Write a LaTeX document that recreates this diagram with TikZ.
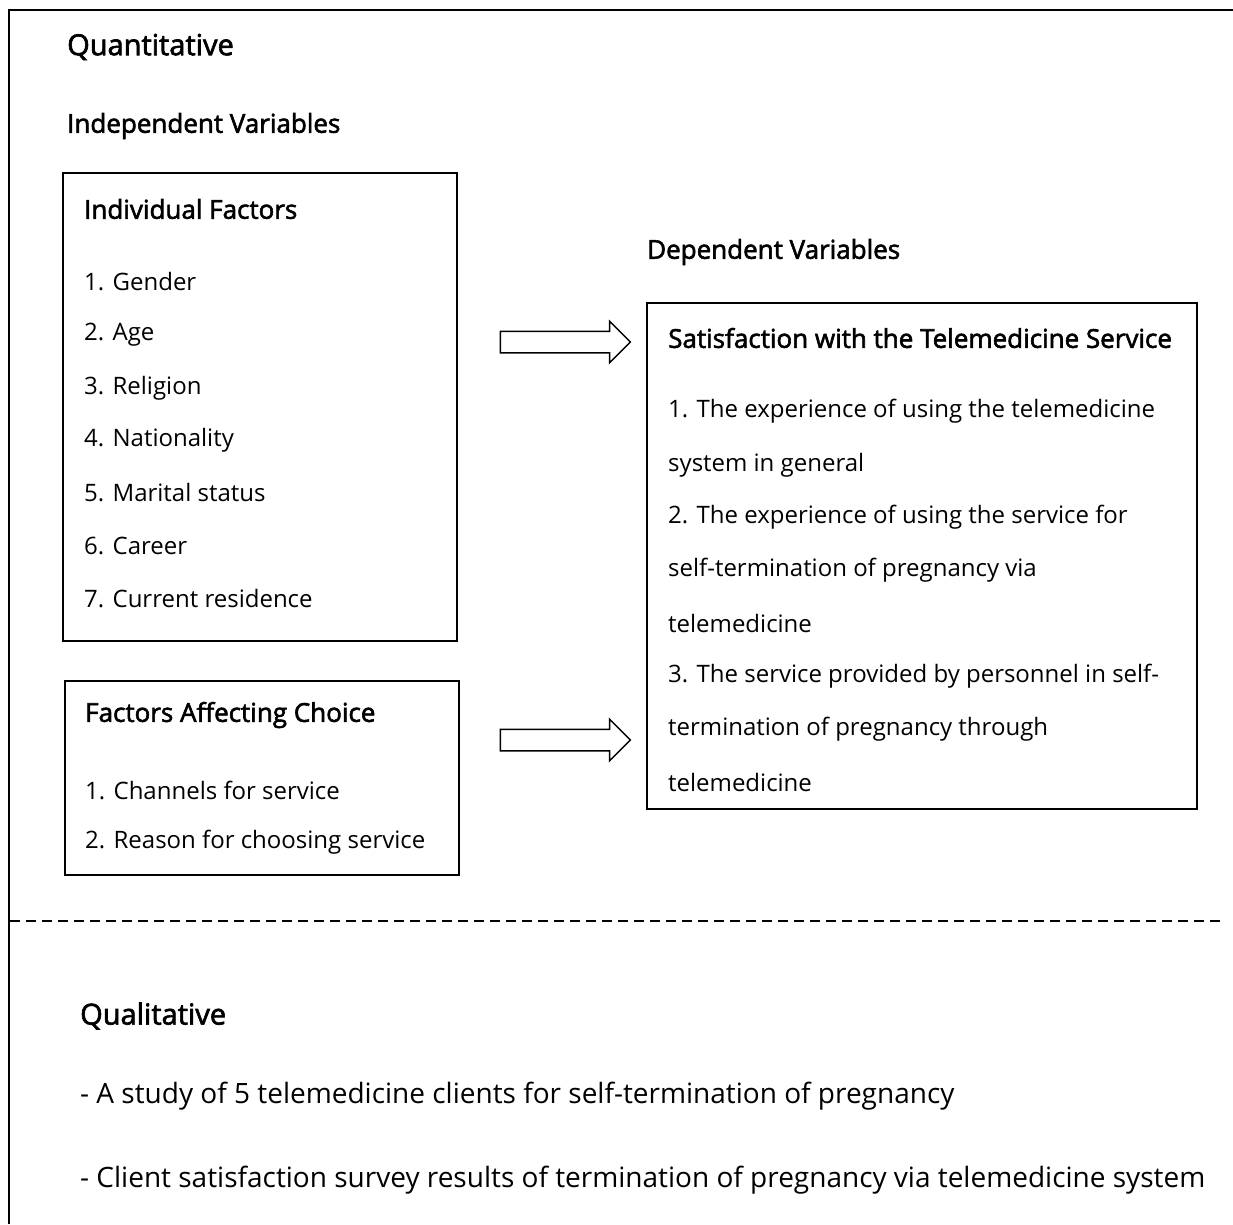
\documentclass[tikz,border=0pt]{standalone}
\usepackage{fontspec}
\setmainfont{Open Sans}
\newfontfamily\headfont[FakeBold=2.2]{Open Sans}
\usetikzlibrary{shapes.arrows, positioning}

\begin{document}
\begin{tikzpicture}[
    x=1pt, y=-1pt,
    every node/.style={font=\fontsize{24}{28}\selectfont},
    head/.style={anchor=west, inner sep=0pt, font=\fontsize{26}{30}\headfont},
    part/.style={anchor=west, inner sep=0pt, font=\fontsize{29}{33}\headfont},
    item/.style={anchor=west, inner sep=0pt},
    note/.style={anchor=west, inner sep=0pt, font=\fontsize{28}{32}\selectfont},
    box/.style={draw, line width=1.6pt, inner sep=0pt},
    fat/.style={draw, line width=1.5pt, single arrow, single arrow head extend=10pt,
                inner xsep=0pt, inner ysep=10pt, minimum height=130pt}
]
    \useasboundingbox (0,0) rectangle (1233,1224);

    % Frame
    \draw[line width=2.5pt] (9,1224) -- (9,10) -- (1233,10);
    \draw[line width=1.8pt, dash pattern=on 10pt off 6pt] (10,921) -- (1222,921);

    % Quantitative part
    \node[part] (quan) at (67,47) {Quantitative};
    \node[head] (indep) at (67,126) {Independent Variables};

    \node[box, minimum width=394pt, minimum height=468pt] (indiv) at (260,407) {};
    \node[head] (indivt) at (84,209) {Individual Factors};
    \node[item] (i1) at (84,282) {1. Gender};
    \node[item] (i2) at (84,335) {2. Age};
    \node[item] (i3) at (84,388) {3. Religion};
    \node[item] (i4) at (84,440) {4. Nationality};
    \node[item] (i5) at (84,493) {5. Marital status};
    \node[item] (i6) at (84,546) {6. Career};
    \node[item] (i7) at (84,599) {7. Current residence};

    \node[box, minimum width=394pt, minimum height=194pt] (choice) at (262,778) {};
    \node[head] (choicet) at (85,715) {Factors Affecting Choice};
    \node[item] (c1) at (85,790) {1. Channels for service};
    \node[item] (c2) at (85,842) {2. Reason for choosing service};

    \node[head] (dep) at (647,252) {Dependent Variables};
    \node[box, minimum width=550pt, minimum height=506pt] (satis) at (922,556) {};
    \node[head] (satist) at (668,338) {Satisfaction with the Telemedicine Service};
    \node[item] (s1) at (668,411) {1. The experience of using the telemedicine};
    \node[item] (s2) at (668,465) {system in general};
    \node[item] (s3) at (668,517) {2. The experience of using the service for};
    \node[item] (s4) at (668,570) {self-termination of pregnancy via};
    \node[item] (s5) at (668,623) {telemedicine};
    \node[item] (s6) at (668,676) {3. The service provided by personnel in self-};
    \node[item] (s7) at (668,729) {termination of pregnancy through};
    \node[item] (s8) at (668,782) {telemedicine};

    % Block arrows
    \node[fat] (arr1) at (560,342) {};
    \node[fat] (arr2) at (560,740) {};

    % Qualitative part
    \node[part] (qual) at (80,1016) {Qualitative};
    \node[note] (q1) at (80,1096) {- A study of 5 telemedicine clients for self-termination of pregnancy};
    \node[note] (q2) at (80,1180) {- Client satisfaction survey results of termination of pregnancy via telemedicine system};
\end{tikzpicture}
\end{document}
